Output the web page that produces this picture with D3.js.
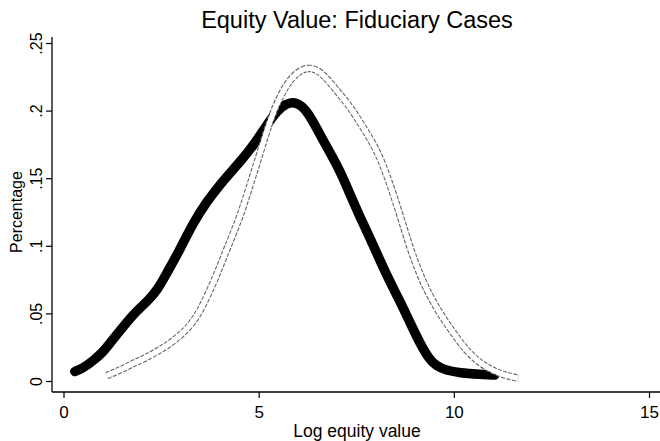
<!DOCTYPE html>
<html>
<head>
<meta charset="utf-8">
<script src="https://cdn.jsdelivr.net/npm/d3@7"></script>
<style>
  body { margin: 0; background: #fff; }
  text { font-family: "Liberation Sans", Arial, sans-serif; fill: #000; }
</style>
</head>
<body>
<div id="chart"></div>
<script>
// data (log equity value, percentage)
var solidX = [0.29, 0.5, 0.76, 1.0, 1.19, 1.52, 1.88, 2.15, 2.40, 2.65, 2.98, 3.32, 3.68, 4.0, 4.27, 4.55, 4.86, 5.2, 5.47, 5.7, 5.88, 6.1, 6.32, 6.65, 7.08, 7.34, 7.60, 7.85, 8.11, 8.37, 8.62, 8.88, 9.13, 9.35, 9.55, 9.8, 10.16, 10.67, 11.05];
var solidY = [0.007, 0.0095, 0.015, 0.021, 0.028, 0.040, 0.052, 0.059, 0.067, 0.080, 0.097, 0.117, 0.133, 0.145, 0.154, 0.163, 0.174, 0.189, 0.200, 0.205, 0.2065, 0.204, 0.196, 0.178, 0.156, 0.138, 0.121, 0.106, 0.089, 0.073, 0.059, 0.043, 0.028, 0.017, 0.011, 0.008, 0.006, 0.005, 0.0044];

var hollowX = [1.11, 1.45, 1.78, 2.1, 2.47, 2.8, 3.16, 3.4, 3.57, 3.83, 4.0, 4.19, 4.52, 4.78, 5.03, 5.29, 5.55, 5.80, 6.06, 6.32, 6.57, 6.83, 7.08, 7.34, 7.67, 8.03, 8.29, 8.6, 8.88, 9.1, 9.31, 9.6, 9.83, 10.1, 10.34, 10.6, 10.85, 11.2, 11.52, 11.65];
var hollowY = [0.004, 0.008, 0.013, 0.017, 0.023, 0.029, 0.038, 0.047, 0.056, 0.072, 0.084, 0.098, 0.121, 0.145, 0.168, 0.193, 0.211, 0.223, 0.230, 0.232, 0.229, 0.221, 0.212, 0.203, 0.188, 0.171, 0.152, 0.125, 0.098, 0.081, 0.067, 0.052, 0.042, 0.031, 0.022, 0.015, 0.010, 0.005, 0.003, 0.002];

var xTicks = [0, 5, 10, 15];
var yTicks = [0, 0.05, 0.1, 0.15, 0.2, 0.25];
var yTickLabels = ["0", ".05", ".1", ".15", ".2", ".25"];

var width = 660, height = 441;

var svg = d3.select("#chart").append("svg")
    .attr("width", width)
    .attr("height", height);

var x = d3.scaleLinear().domain([0, 15]).range([63.5, 649]);
var y = d3.scaleLinear().domain([0, 0.25]).range([381, 43]);

var axisX0 = 52, axisY0 = 392;

// axis lines
svg.append("line")
    .attr("x1", axisX0).attr("x2", axisX0)
    .attr("y1", 37).attr("y2", axisY0)
    .attr("stroke", "#000").attr("stroke-width", 1.3);
svg.append("line")
    .attr("x1", axisX0).attr("x2", 660)
    .attr("y1", axisY0).attr("y2", axisY0)
    .attr("stroke", "#000").attr("stroke-width", 1.3);

// y ticks
var yAxis = d3.axisLeft(y).tickValues(yTicks).tickSize(6)
    .tickFormat(function(d, i){ return yTickLabels[i]; });
var gy = svg.append("g").attr("transform", "translate(" + axisX0 + ",0)").call(yAxis);
gy.select(".domain").remove();
gy.selectAll(".tick line").attr("stroke", "#000").attr("stroke-width", 1.2);
gy.selectAll(".tick text")
    .attr("x", null).attr("dy", null)
    .attr("transform", "translate(-10,0) rotate(-90)")
    .attr("text-anchor", "middle")
    .attr("font-size", 16)
    .attr("font-family", "Liberation Sans, Arial, sans-serif");

// x ticks
var xAxis = d3.axisBottom(x).tickValues(xTicks).tickSize(6);
var gx = svg.append("g").attr("transform", "translate(0," + axisY0 + ")").call(xAxis);
gx.select(".domain").remove();
gx.selectAll(".tick line").attr("stroke", "#000").attr("stroke-width", 1.2);
gx.selectAll(".tick text")
    .attr("y", 26).attr("dy", null)
    .attr("font-size", 17)
    .attr("font-family", "Liberation Sans, Arial, sans-serif");

var line = d3.line()
    .x(function(d){ return x(d[0]); })
    .y(function(d){ return y(d[1]); })
    .curve(d3.curveBasis);

var solid = d3.zip(solidX, solidY);
var hollow = d3.zip(hollowX, hollowY);

// thick black series
svg.append("path")
    .attr("d", line(solid))
    .attr("fill", "none")
    .attr("stroke", "#000")
    .attr("stroke-width", 9.5)
    .attr("stroke-linecap", "round")
    .attr("stroke-linejoin", "round");

// hollow grey series (outlined, dashed edges)
svg.append("path")
    .attr("d", line(hollow))
    .attr("fill", "none")
    .attr("stroke", "#666")
    .attr("stroke-width", 7.5)
    .attr("stroke-dasharray", "4,1.5");
svg.append("path")
    .attr("d", line(hollow))
    .attr("fill", "none")
    .attr("stroke", "#fff")
    .attr("stroke-width", 5.3);

// titles
svg.append("text")
    .attr("x", 357).attr("y", 28)
    .attr("text-anchor", "middle")
    .attr("font-size", 23.5)
    .text("Equity Value: Fiduciary Cases");

svg.append("text")
    .attr("x", 357).attr("y", 437)
    .attr("text-anchor", "middle")
    .attr("font-size", 17.5)
    .text("Log equity value");

svg.append("text")
    .attr("transform", "translate(22,212) rotate(-90)")
    .attr("text-anchor", "middle")
    .attr("font-size", 16)
    .text("Percentage");
</script>
</body>
</html>
